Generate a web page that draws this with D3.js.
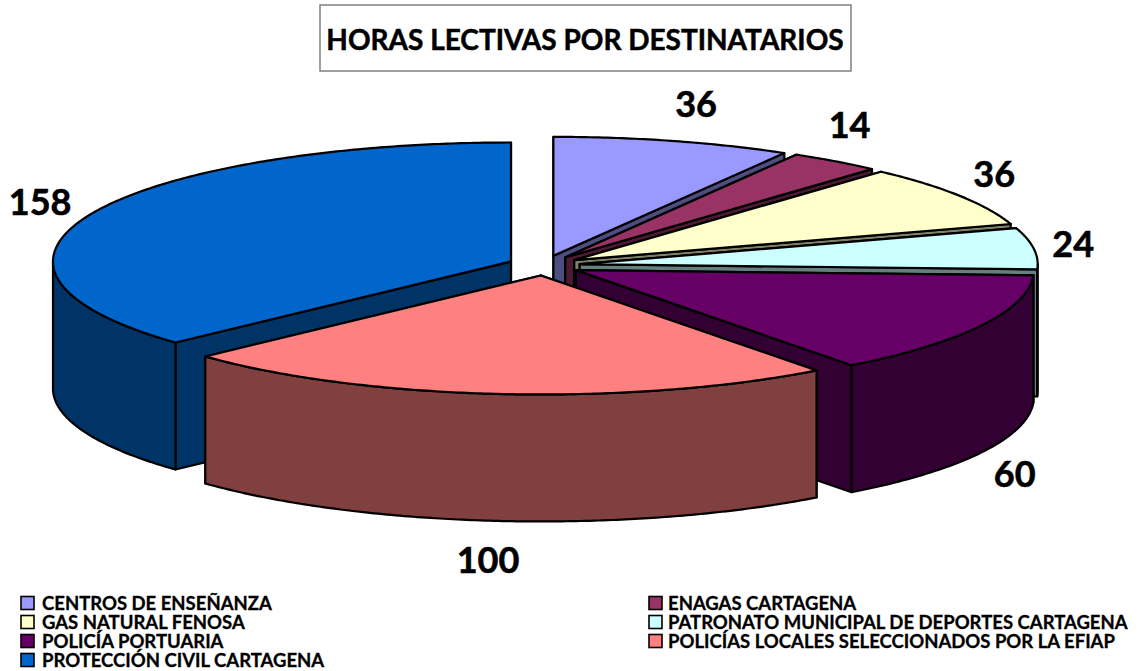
<!DOCTYPE html>
<html><head><meta charset="utf-8">
<style>html,body{margin:0;padding:0;background:#fff}svg{display:block}text{font-family:Lato,"Open Sans",sans-serif;font-weight:700;fill:#000;stroke:#000}</style>
<script src="https://cdn.jsdelivr.net/npm/d3@7"></script></head><body><div id="c"></div>
<script>
const categories=["CENTROS DE ENSEÑANZA","ENAGAS CARTAGENA","GAS NATURAL FENOSA","PATRONATO MUNICIPAL DE DEPORTES CARTAGENA","POLICÍA PORTUARIA","POLICÍAS LOCALES SELECCIONADOS POR LA EFIAP","PROTECCIÓN CIVIL CARTAGENA"];
const values=[36,14,36,24,60,100,158];
const topColors=["#9999FF","#993366","#FFFFCC","#CCFFFF","#660066","#FF8080","#0066CC"];
const sideColors=["#4D4D80","#4D1A33","#808066","#668080","#330033","#804040","#003366"];
const title="HORAS LECTIVAS POR DESTINATARIOS";

const W=1139,H=671,cx=544,cy=265.5,rx=458,ry=119,depth=127,boomX=36,boomY=10;
const svg=d3.select("#c").append("svg").attr("width",W).attr("height",H);

// projection of the unit disc to the tilted ellipse
const px=d3.scaleLinear().domain([-1,1]).range([-rx,rx]);
const py=d3.scaleLinear().domain([-1,1]).range([-ry,ry]);
const pie=d3.pie().sort(null).value(d=>d.v)(values.map((v,i)=>({v,i})));
const line=d3.line();
const arcPts=(a0,a1,ox,oy,dz=0)=>{
  const n=Math.max(2,Math.ceil((a1-a0)/0.01));
  return d3.range(n+1).map(k=>{const a=a0+(a1-a0)*k/n;
    return [ox+px(Math.sin(a)),oy+py(-Math.cos(a))+dz];});
};
const slices=pie.map(p=>{
  const m=(p.startAngle+p.endAngle)/2;
  return {...p,m,i:p.data.i,ox:cx+boomX*Math.sin(m),oy:cy-boomY*Math.cos(m)};
});
const stroke={stroke:"#000","stroke-width":2.2,"stroke-linejoin":"round"};
const shape=(d,fill)=>{const s=svg.append("path").attr("d",d).attr("fill",fill);
  Object.entries(stroke).forEach(([k,v])=>s.attr(k,v));};

// painter's algorithm, far slices first
slices.slice().sort((a,b)=>Math.cos(b.m)-Math.cos(a.m)).forEach(s=>{
  const side=sideColors[s.i];
  [s.startAngle,s.endAngle].forEach(a=>{
    const r=arcPts(a,a,s.ox,s.oy)[0];
    shape(line([[s.ox,s.oy],r,[r[0],r[1]+depth],[s.ox,s.oy+depth]])+"Z",side);
  });
  const f0=Math.max(s.startAngle,Math.PI/2),f1=Math.min(s.endAngle,Math.PI*1.5);
  if(f1>f0){
    shape(line([...arcPts(f0,f1,s.ox,s.oy),...arcPts(f0,f1,s.ox,s.oy,depth).reverse()])+"Z",side);
  }
  shape(line([[s.ox,s.oy],...arcPts(s.startAngle,s.endAngle,s.ox,s.oy)])+"Z",topColors[s.i]);
});

// value labels, placed from each slice's rim
const labelNudge=[[23,-38],[14,-37],[35,-23],[39.5,-6],[33.5,147],[-12.5,165],[-51,-13]];
slices.forEach(s=>{
  const [nx,ny]=labelNudge[s.i];
  svg.append("text").attr("text-anchor","middle").attr("dominant-baseline","central")
    .attr("font-size",36).attr("stroke-width",0.6)
    .attr("x",s.ox+px(Math.sin(s.m))+nx).attr("y",s.oy+py(-Math.cos(s.m))+ny).text(values[s.i]);
});

// title
svg.append("rect").attr("x",320).attr("y",5).attr("width",531).attr("height",66)
  .attr("fill","#fff").style("stroke","#808080").attr("stroke-width",1.5);
svg.append("text").attr("x",585).attr("y",38.5).attr("text-anchor","middle").attr("dominant-baseline","central")
  .attr("font-size",28).attr("stroke-width",0.5).text(title);

// legend: two columns
categories.forEach((c,i)=>{
  const col=i%2,row=Math.floor(i/2);
  const x=col?649:21,y=603+row*19;
  svg.append("rect").attr("x",x).attr("y",y-6.5).attr("width",13).attr("height",13)
    .attr("fill",topColors[i]).attr("stroke","#000").attr("stroke-width",1.6);
  svg.append("text").attr("x",x+(col?19:21)).attr("y",y).attr("dominant-baseline","central")
    .attr("font-size",18.5).attr("stroke-width",0.3).text(c);
});
</script></body></html>
